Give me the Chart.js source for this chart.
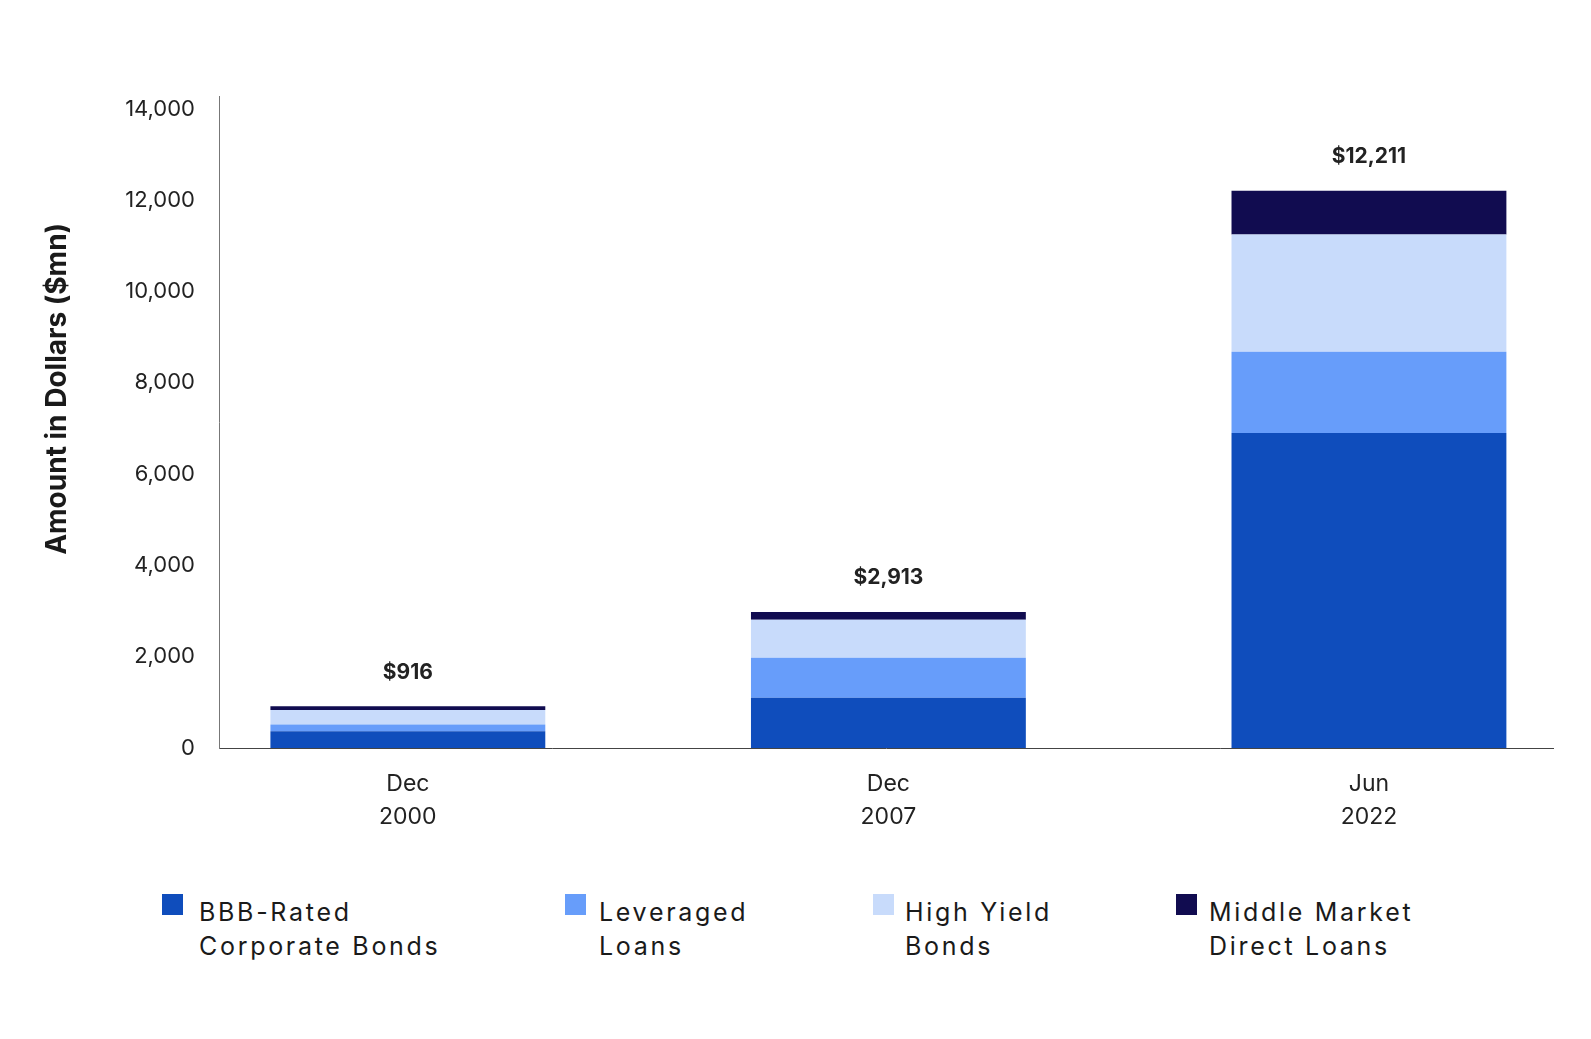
<!DOCTYPE html>
<html>
<head>
<meta charset="utf-8">
<script src="https://cdn.jsdelivr.net/npm/chart.js@4"></script>
<style>
  html, body { margin: 0; padding: 0; background: #fff; }
  #wrap { position: relative; width: 1591px; height: 1039px; }
  #c { position: absolute; left: 0; top: 0; }
  .leg { position: absolute; top: 894px; font-family: Inter, "Noto Sans", sans-serif; font-size: 25px; letter-spacing: 2.7px; color: #1a1a1a; line-height: 34px; }
  .leg .box { position: absolute; left: 0; top: 0; width: 21px; height: 21px; }
  .leg .txt { position: absolute; top: 1px; white-space: nowrap; }
</style>
</head>
<body>
<div id="wrap">
  <canvas id="c"></canvas>
  <div id="legend"></div>
</div>
<script>
const categories = [["Dec", "2000"], ["Dec", "2007"], ["Jun", "2022"]];
const totalLabels = ["$916", "$2,913", "$12,211"];
const seriesNames = [["BBB-Rated", "Corporate Bonds"], ["Leveraged", "Loans"], ["High Yield", "Bonds"], ["Middle Market", "Direct Loans"]];
const bbbBonds = [365, 1100, 6900];
const leveragedLoans = [150, 880, 1780];
const highYieldBonds = [315, 830, 2570];
const middleMarketLoans = [86, 170, 960];
const yTicks = [0, 2000, 4000, 6000, 8000, 10000, 12000, 14000];
const colors = ["#0F4DBC", "#679DFA", "#C8DBFB", "#110C50"];

const seriesValues = [bbbBonds, leveragedLoans, highYieldBonds, middleMarketLoans];
const FONT = "Inter, 'Noto Sans', sans-serif";

const datasets = seriesValues.map((vals, i) => ({
  label: seriesNames[i].join(" "),
  data: vals.map((v, j) => ({ x: j, y: v })),
  backgroundColor: colors[i],
  borderWidth: 0,
  categoryPercentage: 1,
  barPercentage: 0.572
}));

const totalsPlugin = {
  id: "totals",
  afterDatasetsDraw(chart) {
    const ctx = chart.ctx;
    const lastMeta = chart.getDatasetMeta(chart.data.datasets.length - 1);
    ctx.save();
    ctx.font = "bold 21px " + FONT;
    ctx.fillStyle = "#222";
    ctx.textAlign = "center";
    ctx.textBaseline = "middle";
    lastMeta.data.forEach((el, i) => {
      ctx.fillText(totalLabels[i], el.x, el.y - 34);
    });
    ctx.restore();
  }
};

const canvas = document.getElementById("c");
canvas.width = 1591; canvas.height = 850;
canvas.style.width = "1591px"; canvas.style.height = "850px";

new Chart(canvas, {
  type: "bar",
  data: { datasets },
  options: {
    responsive: false,
    animation: false,
    devicePixelRatio: 1,
    layout: { padding: { left: 0, top: 96, right: 38, bottom: 0 } },
    plugins: { legend: { display: false }, tooltip: { enabled: false } },
    scales: {
      x: {
        type: "linear",
        stacked: true,
        offset: false,
        min: -0.393,
        max: 2.383,
        grid: { display: false, drawTicks: false, offset: false },
        border: { display: true, color: "#444", width: 1 },
        afterBuildTicks(axis) { axis.ticks = categories.map((c, i) => ({ value: i })); },
        afterFit(axis) { axis.height = 850 - 748; },
        ticks: {
          padding: 19,
          autoSkip: false,
          maxRotation: 0,
          color: "#222",
          font: { family: FONT, size: 23, lineHeight: 1.457 },
          callback: (v) => categories[v] || ""
        }
      },
      y: {
        stacked: true,
        min: 0,
        max: 14285,
        grid: { display: false, drawTicks: false },
        border: { display: true, color: "#777", width: 1 },
        afterBuildTicks(axis) { axis.ticks = yTicks.map(v => ({ value: v })); },
        afterFit(axis) { axis.width = 219; },
        ticks: {
          padding: 24,
          color: "#222",
          font: { family: FONT, size: 22 },
          callback: (v) => v.toLocaleString("en-US")
        },
        title: {
          display: true,
          text: "\u00A0".repeat(10) + "Amount in Dollars ($mn)",
          color: "#1a1a1a",
          font: { family: FONT, size: 28, weight: "bold" },
          padding: { top: 41, bottom: 0 }
        }
      }
    }
  },
  plugins: [totalsPlugin]
});

const legendX = [[162, 199], [565, 599], [873, 905], [1176, 1209]];
const legend = document.getElementById("legend");
seriesNames.forEach((name, i) => {
  const item = document.createElement("div");
  item.className = "leg";
  item.style.left = legendX[i][0] + "px";
  const box = document.createElement("div");
  box.className = "box";
  box.style.background = colors[i];
  const txt = document.createElement("div");
  txt.className = "txt";
  txt.style.left = (legendX[i][1] - legendX[i][0]) + "px";
  txt.innerHTML = name.join("<br>");
  item.appendChild(box);
  item.appendChild(txt);
  legend.appendChild(item);
});
</script>
</body>
</html>
